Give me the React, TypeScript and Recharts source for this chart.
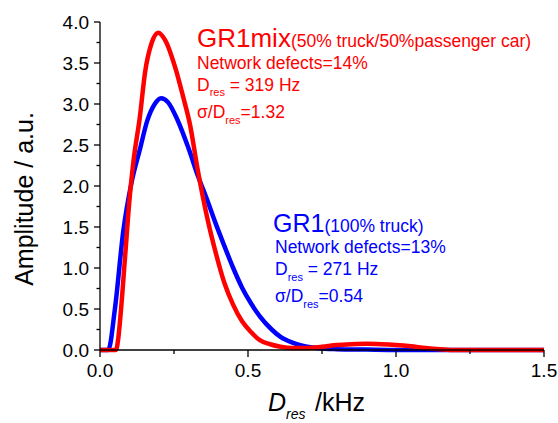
import React from 'react'
import { LineChart, Line, XAxis, YAxis, Customized } from 'recharts'

// GR1 (100% truck) distribution
const blueX = [0, 0.028, 0.05, 0.079, 0.107, 0.135, 0.16, 0.185, 0.206, 0.23, 0.26, 0.3, 0.33, 0.36, 0.39, 0.42, 0.45, 0.48, 0.51, 0.54, 0.58, 0.61, 0.65, 0.68, 0.72, 0.76, 0.8, 0.9, 1.0, 1.2, 1.5]
const blueY = [0, 0, 0.49, 1.46, 2.05, 2.45, 2.8, 3.0, 3.07, 3.02, 2.82, 2.45, 2.13, 1.85, 1.55, 1.27, 1.0, 0.76, 0.57, 0.41, 0.25, 0.16, 0.09, 0.055, 0.03, 0.015, 0.01, 0.005, 0, 0, 0]

// GR1mix (50% truck / 50% passenger car) distribution
const redX = [0, 0.054, 0.062, 0.07, 0.085, 0.1, 0.113, 0.135, 0.152, 0.175, 0.197, 0.22, 0.257, 0.28, 0.304, 0.33, 0.36, 0.39, 0.42, 0.45, 0.48, 0.51, 0.54, 0.575, 0.61, 0.65, 0.7, 0.75, 0.8, 0.85, 0.9, 0.95, 1.0, 1.05, 1.1, 1.15, 1.2, 1.3, 1.5]
const redY = [0, 0, 0.15, 0.45, 1.15, 1.85, 2.3, 2.85, 3.38, 3.75, 3.87, 3.78, 3.41, 3.1, 2.75, 2.2, 1.65, 1.2, 0.82, 0.55, 0.35, 0.22, 0.12, 0.07, 0.04, 0.025, 0.025, 0.04, 0.06, 0.07, 0.075, 0.07, 0.06, 0.045, 0.025, 0.01, 0, 0, 0]

const xTicks = [0, 0.25, 0.5, 0.75, 1.0, 1.25, 1.5]
const yTicks = [0, 0.25, 0.5, 0.75, 1.0, 1.25, 1.5, 1.75, 2.0, 2.25, 2.5, 2.75, 3.0, 3.25, 3.5, 3.75, 4.0]

const blueData = blueX.map((x, i) => ({ x, y: blueY[i] }))
const redData = redX.map((x, i) => ({ x, y: redY[i] }))

const FONT = '"Liberation Sans", Arial, sans-serif'
const RED = '#ff0000'
const BLUE = '#0000ff'

const isMajor = (v: number) => Math.abs(v * 2 - Math.round(v * 2)) < 1e-6

function XTick({ x, y, payload }: any) {
  const major = isMajor(payload.value)
  return (
    <g>
      <line x1={x} y1={y} x2={x} y2={y + (major ? 7 : 4)} stroke="#000" strokeWidth={1.3} />
      {major && (
        <text x={x} y={y + 27} textAnchor="middle" fontSize={19} fontFamily={FONT} fill="#000">
          {payload.value.toFixed(1)}
        </text>
      )}
    </g>
  )
}

function YTick({ x, y, payload }: any) {
  const major = isMajor(payload.value)
  return (
    <g>
      <line x1={x - (major ? 6 : 3.5)} y1={y} x2={x} y2={y} stroke="#000" strokeWidth={1.3} />
      {major && (
        <text x={x - 11} y={y + 7} textAnchor="end" fontSize={19} fontFamily={FONT} fill="#000">
          {payload.value.toFixed(1)}
        </text>
      )}
    </g>
  )
}

function Notes() {
  return (
    <g fontFamily={FONT}>
      <text x={33} y={199} transform="rotate(-90 33 199)" textAnchor="middle" fontSize={25} fill="#000">
        Amplitude / a.u.
      </text>
      <text x={268} y={411} fontSize={25} fill="#000">
        <tspan fontStyle="italic">D</tspan>
        <tspan fontStyle="italic" fontSize={14} dy={8}>res</tspan>
        <tspan x={315} dy={-8}>/kHz</tspan>
      </text>

      <g fill={RED}>
        <text x={197} y={47}>
          <tspan fontSize={26}>GR1mix</tspan>
          <tspan fontSize={17.5}>(50% truck/50%passenger car)</tspan>
        </text>
        <text x={197} y={69} fontSize={17.5}>Network defects=14%</text>
        <text x={197} y={91} fontSize={17.5}>
          D<tspan fontSize={11} dy={5}>res</tspan>
          <tspan dy={-5}> = 319 Hz</tspan>
        </text>
        <text x={197} y={118} fontSize={17.5}>
          σ/D<tspan fontSize={11} dy={6}>res</tspan>
          <tspan dy={-6}>=1.32</tspan>
        </text>
      </g>

      <g fill={BLUE}>
        <text x={273} y={232}>
          <tspan fontSize={25}>GR1</tspan>
          <tspan fontSize={17.5}>(100% truck)</tspan>
        </text>
        <text x={275} y={253} fontSize={17.5}>Network defects=13%</text>
        <text x={275} y={275} fontSize={17.5}>
          D<tspan fontSize={11} dy={6}>res</tspan>
          <tspan dy={-6}> = 271 Hz</tspan>
        </text>
        <text x={275} y={302} fontSize={17.5}>
          σ/D<tspan fontSize={11} dy={6}>res</tspan>
          <tspan dy={-6}>=0.54</tspan>
        </text>
      </g>
    </g>
  )
}

export default function App() {
  return (
    <div style={{ position: 'absolute', left: 0, top: 0, background: '#fff' }}>
      <LineChart width={558} height={423} margin={{ top: 22, right: 14, bottom: 0, left: 0 }}>
        <XAxis
          dataKey="x"
          type="number"
          domain={[0, 1.5]}
          ticks={xTicks}
          interval={0}
          height={73}
          tickSize={0}
          tickMargin={0}
          tickLine={false}
          axisLine={{ stroke: '#000', strokeWidth: 1.3 }}
          tick={<XTick />}
          allowDuplicatedCategory={false}
        />
        <YAxis
          type="number"
          domain={[0, 4]}
          ticks={yTicks}
          interval={0}
          width={100}
          tickSize={0}
          tickMargin={0}
          tickLine={false}
          axisLine={{ stroke: '#000', strokeWidth: 1.3 }}
          tick={<YTick />}
        />
        <Line data={blueData} dataKey="y" type="monotone" stroke={BLUE} strokeWidth={4.5} dot={false} activeDot={false} isAnimationActive={false} />
        <Line data={redData} dataKey="y" type="monotone" stroke={RED} strokeWidth={4.5} dot={false} activeDot={false} isAnimationActive={false} />
        <Customized component={Notes} />
      </LineChart>
    </div>
  )
}
